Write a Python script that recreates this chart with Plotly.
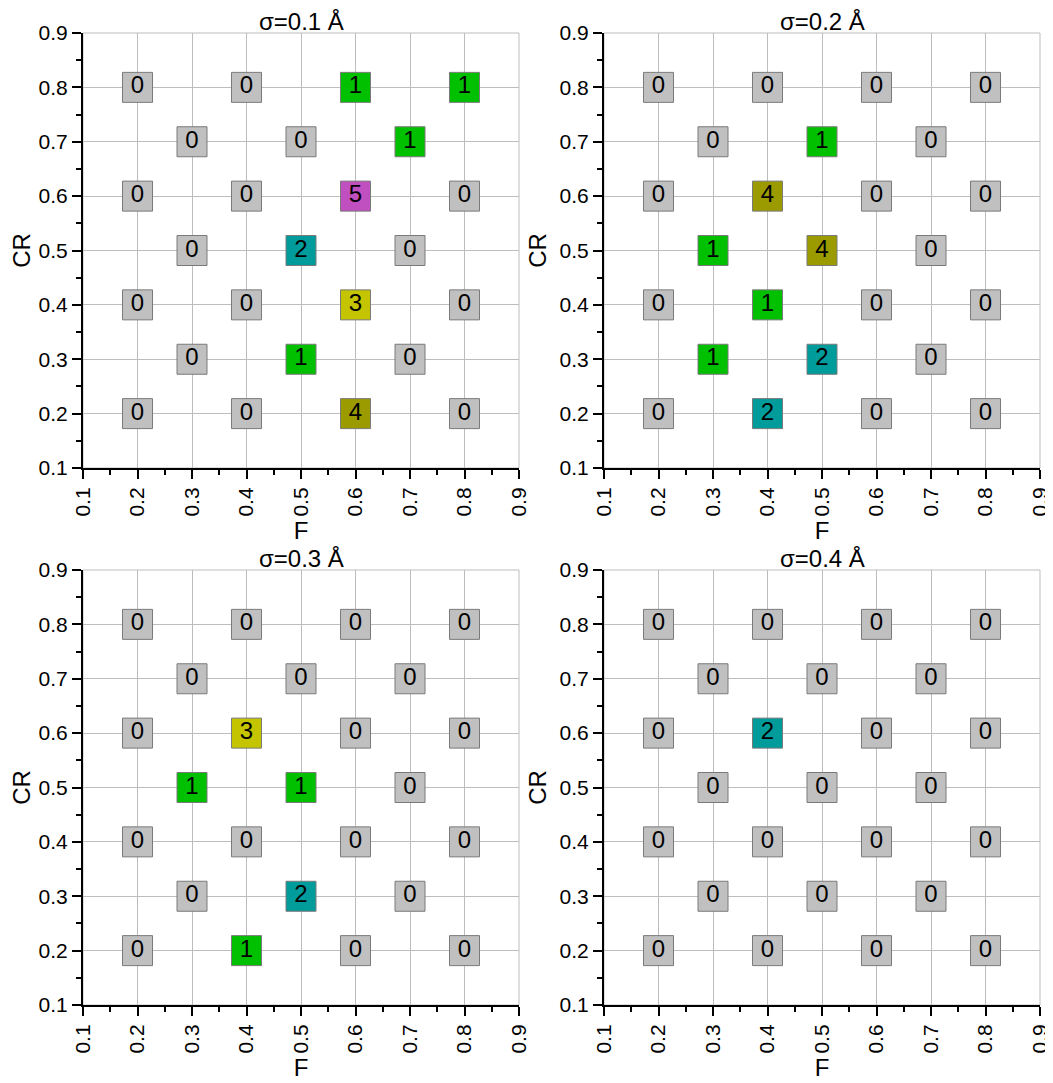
import plotly.graph_objects as go

# Grid of (F, CR) points
F_vals = [0.2, 0.4, 0.6, 0.8, 0.3, 0.5, 0.7, 0.2, 0.4, 0.6, 0.8, 0.3, 0.5, 0.7,
          0.2, 0.4, 0.6, 0.8, 0.3, 0.5, 0.7, 0.2, 0.4, 0.6, 0.8]
CR_vals = [0.8, 0.8, 0.8, 0.8, 0.7, 0.7, 0.7, 0.6, 0.6, 0.6, 0.6, 0.5, 0.5, 0.5,
           0.4, 0.4, 0.4, 0.4, 0.3, 0.3, 0.3, 0.2, 0.2, 0.2, 0.2]

titles = ["σ=0.1 Å", "σ=0.2 Å", "σ=0.3 Å", "σ=0.4 Å"]

counts_s01 = [0, 0, 1, 1, 0, 0, 1, 0, 0, 5, 0, 0, 2, 0, 0, 0, 3, 0, 0, 1, 0, 0, 0, 4, 0]
counts_s02 = [0, 0, 0, 0, 0, 1, 0, 0, 4, 0, 0, 1, 4, 0, 0, 1, 0, 0, 1, 2, 0, 0, 2, 0, 0]
counts_s03 = [0, 0, 0, 0, 0, 0, 0, 0, 3, 0, 0, 1, 1, 0, 0, 0, 0, 0, 0, 2, 0, 0, 1, 0, 0]
counts_s04 = [0, 0, 0, 0, 0, 0, 0, 0, 2, 0, 0, 0, 0, 0, 0, 0, 0, 0, 0, 0, 0, 0, 0, 0, 0]
all_counts = [counts_s01, counts_s02, counts_s03, counts_s04]

tick_vals = [0.1, 0.2, 0.3, 0.4, 0.5, 0.6, 0.7, 0.8, 0.9]
tick_text = ["0.1", "0.2", "0.3", "0.4", "0.5", "0.6", "0.7", "0.8", "0.9"]

color_map = {0: "#C0C0C0", 1: "#00C000", 2: "#009B9B", 3: "#C4C400",
             4: "#9B9B00", 5: "#C04FC0"}

W, H = 1053, 1083
OFF = 8  # page body margin
x_doms = [((83 - OFF) / W, (519 - OFF) / W), ((604 - OFF) / W, (1040 - OFF) / W)]
y_doms = [(1 - (468 - OFF) / H, 1 - (33 - OFF) / H),
          (1 - (1005 - OFF) / H, 1 - (570 - OFF) / H)]

FONT = "Liberation Sans, Arial, sans-serif"

fig = go.Figure()
shapes = []
annotations = []
for i in range(4):
    r, c = divmod(i, 2)
    xa = "x" if i == 0 else f"x{i+1}"
    ya = "y" if i == 0 else f"y{i+1}"
    cnt = all_counts[i]
    fig.add_trace(go.Scatter(
        x=F_vals, y=CR_vals, xaxis=xa, yaxis=ya,
        mode="markers+text",
        marker=dict(symbol="square", size=30,
                    color=[color_map[v] for v in cnt],
                    line=dict(color="#7A7A7A", width=1)),
        text=[str(v) for v in cnt],
        textposition="middle center",
        textfont=dict(family=FONT, size=24, color="black"),
        showlegend=False, cliponaxis=False,
    ))
    axkey_x = "xaxis" if i == 0 else f"xaxis{i+1}"
    axkey_y = "yaxis" if i == 0 else f"yaxis{i+1}"
    common = dict(
        range=[0.1, 0.9], tickvals=tick_vals, ticktext=tick_text,
        showgrid=True, gridcolor="#BDBDBD", gridwidth=1,
        showline=True, linecolor="black", linewidth=2,
        ticks="outside", ticklen=9, tickwidth=2, tickcolor="black",
        minor=dict(dtick=0.05, tick0=0.1, ticks="outside", ticklen=5,
                   tickwidth=2, tickcolor="black", showgrid=False),
        tickfont=dict(family=FONT, size=21, color="black"),
        zeroline=False, fixedrange=True, automargin=False,
    )
    fig.layout[axkey_x] = dict(common, domain=list(x_doms[c]), anchor=ya,
                               tickangle=-90,
                               title=dict(text="F", standoff=2,
                                          font=dict(family=FONT, size=24, color="black")))
    fig.layout[axkey_y] = dict(common, domain=list(y_doms[r]), anchor=xa,
                               title=dict(text="CR", standoff=6,
                                          font=dict(family=FONT, size=24, color="black")))
    shapes.append(dict(type="rect", xref=f"{xa} domain", yref=f"{ya} domain",
                       x0=0, x1=1, y0=0, y1=1, line=dict(color="#BDBDBD", width=1),
                       layer="below"))
    annotations.append(dict(text=titles[i], xref=f"{xa} domain", yref=f"{ya} domain",
                            x=0.5, y=1.0, yshift=-4, xanchor="center", yanchor="bottom",
                            showarrow=False,
                            font=dict(family=FONT, size=24, color="black")))

fig.update_layout(width=W, height=H, autosize=False,
                  margin=dict(l=0, r=0, t=0, b=0),
                  paper_bgcolor="white", plot_bgcolor="white",
                  shapes=shapes, annotations=annotations)

fig.write_html("out.html")
